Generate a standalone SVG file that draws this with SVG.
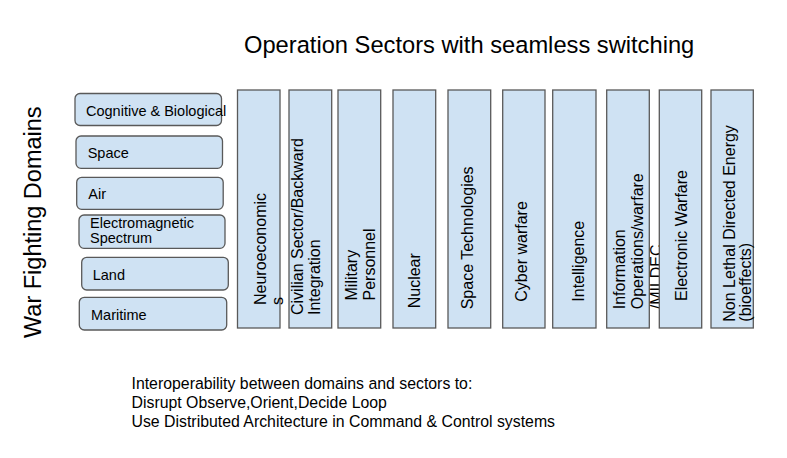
<svg xmlns="http://www.w3.org/2000/svg" width="787" height="458" viewBox="0 0 787 458">
<style>
text{font-family:"Liberation Sans",Arial,sans-serif;fill:#000}
.dom{fill:#cfe2f3;stroke:#595959;stroke-width:1.3}
.sec{fill:#cfe2f3;stroke:#595959;stroke-width:1.3}
.dt{font-size:14.5px}
.st{font-size:16px}
.title{font-size:23.7px}
.side{font-size:23.5px}
.note{font-size:15.85px}
</style>
<rect width="787" height="458" fill="#fff"/>
<text id="title" class="title" x="244" y="53">Operation Sectors with seamless switching</text>
<text id="side-label" class="side" transform="translate(41,338) rotate(-90)">War Fighting Domains</text>

<g id="domain-cognitive"><rect class="dom" x="75" y="93.5" width="146.5" height="32" rx="5"/><text class="dt" x="86" y="115.5">Cognitive &amp; Biological</text></g>
<g id="domain-space"><rect class="dom" x="76" y="136" width="146.5" height="32.3" rx="5"/><text class="dt" x="87.7" y="158.3">Space</text></g>
<g id="domain-air"><rect class="dom" x="76.7" y="177.3" width="146.5" height="32" rx="5"/><text class="dt" x="88.3" y="199">Air</text></g>
<g id="domain-em"><rect class="dom" x="79" y="215" width="146" height="33.3" rx="5"/><text class="dt" x="90" y="228">Electromagnetic</text><text class="dt" x="90" y="243">Spectrum</text></g>
<g id="domain-land"><rect class="dom" x="81.7" y="257.3" width="146.6" height="32.7" rx="5"/><text class="dt" x="92.7" y="280">Land</text></g>
<g id="domain-maritime"><rect class="dom" x="79.3" y="297.3" width="147.4" height="32.7" rx="5"/><text class="dt" x="91" y="320">Maritime</text></g>

<g id="sector-neuro"><rect class="sec" x="237.5" y="90" width="42.5" height="238"/><text class="st" transform="translate(265.5,305) rotate(-90)">Neuroeconomic</text><text class="st" transform="translate(283.3,305) rotate(-90)">s</text></g>
<g id="sector-civilian"><rect class="sec" x="289" y="90" width="42.7" height="238"/><text class="st" transform="translate(303.3,315) rotate(-90)">Civilian Sector/Backward</text><text class="st" transform="translate(320,315) rotate(-90)">Integration</text></g>
<g id="sector-military"><rect class="sec" x="338" y="90" width="42.7" height="238"/><text class="st" transform="translate(356.7,300.5) rotate(-90)">Military</text><text class="st" transform="translate(375,300.5) rotate(-90)">Personnel</text></g>
<g id="sector-nuclear"><rect class="sec" x="393" y="90" width="42.7" height="238"/><text class="st" transform="translate(420,308.3) rotate(-90)">Nuclear</text></g>
<g id="sector-space"><rect class="sec" x="448" y="90" width="42.7" height="238"/><text class="st" transform="translate(473.3,309.3) rotate(-90)">Space Technologies</text></g>
<g id="sector-cyber"><rect class="sec" x="502.7" y="90" width="42.3" height="238"/><text class="st" transform="translate(526.7,301.7) rotate(-90)">Cyber warfare</text></g>
<g id="sector-intelligence"><rect class="sec" x="552.7" y="90" width="43.3" height="238"/><text class="st" transform="translate(584.3,301.7) rotate(-90)">Intelligence</text></g>
<g id="sector-info"><rect class="sec" x="606.7" y="90" width="42.6" height="238"/><text class="st" transform="translate(625,309.3) rotate(-90)">Information</text><text class="st" transform="translate(643.3,309.3) rotate(-90)">Operations/warfare</text><text class="st" transform="translate(661.7,309.3) rotate(-90)">/MILDEC</text></g>
<g id="sector-ew"><rect class="sec" x="659.3" y="90" width="42.4" height="238"/><text class="st" transform="translate(687.3,301) rotate(-90)">Electronic Warfare</text></g>
<g id="sector-nonlethal"><rect class="sec" x="711" y="90" width="42.3" height="238"/><text class="st" transform="translate(735,321.7) rotate(-90)">Non Lethal Directed Energy</text><text class="st" transform="translate(751,321.7) rotate(-90)">(bioeffects)</text></g>

<g id="connectors"/>

<g id="note">
<text class="note" x="131.5" y="389">Interoperability between domains and sectors to:</text>
<text class="note" x="131.5" y="407.7">Disrupt Observe,Orient,Decide Loop</text>
<text class="note" x="131.5" y="426.5">Use Distributed Architecture in Command &amp; Control systems</text>
</g>
</svg>
